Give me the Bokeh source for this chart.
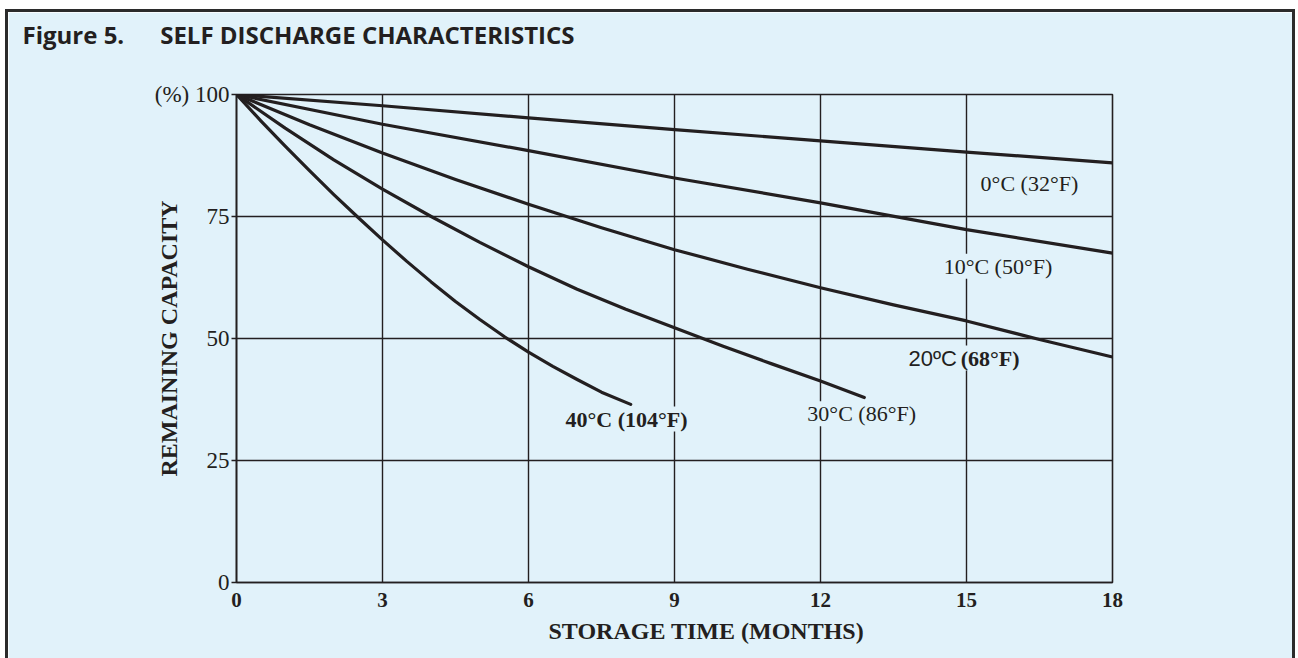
from bokeh.plotting import figure
from bokeh.models import Label, FixedTicker, Range1d, Title
from bokeh.embed import file_html
from bokeh.resources import INLINE

# ---- data ----
x_ticks = [0, 3, 6, 9, 12, 15, 18]
y_ticks = [0, 25, 50, 75, 100]

m_0c = [0, 3, 6, 9, 12, 15, 18]
v_0c = [100, 97.7, 95.2, 92.8, 90.5, 88.2, 86.0]

m_10c = [0, 3, 6, 9, 12, 15, 18]
v_10c = [100, 93.9, 88.5, 82.9, 77.8, 72.3, 67.5]

m_20c = [0, 1.5, 3, 4.5, 6, 7.5, 9, 10.5, 12, 13.5, 15, 16.5, 18]
v_20c = [100, 93.8, 88.0, 82.6, 77.5, 72.7, 68.2, 64.2, 60.4, 56.9, 53.6, 49.8, 46.2]

m_30c = [0, 1, 2, 3, 4, 5, 6, 7, 8, 9, 10, 11, 12, 12.9]
v_30c = [100, 93.1, 86.6, 80.6, 75.0, 69.7, 64.7, 60.1, 56.0, 52.2, 48.4, 44.8, 41.3, 37.9]

m_40c = [0, 0.5, 1, 1.5, 2, 2.5, 3, 3.5, 4, 4.5, 5, 5.5, 6, 6.5, 7, 7.5, 8.1]
v_40c = [100, 94.6, 89.4, 84.4, 79.5, 74.8, 70.2, 65.8, 61.6, 57.6, 53.9, 50.4, 47.2, 44.3, 41.6, 39.0, 36.5]

BG = "#e1f2fa"
INK = "#231f20"
SERIF = "Liberation Serif"

p = figure(width=1284, height=646, output_backend="svg", toolbar_location=None,
           x_range=Range1d(0, 18), y_range=Range1d(0, 100),
           min_border_left=228, min_border_right=180, min_border_top=82, min_border_bottom=76,
           background_fill_color=BG, border_fill_color=BG, margin=(12, 0, 0, 8))
p.styles = {"box-shadow": "-3px 0 0 0 #2b2b2b, 3px 0 0 0 #2b2b2b, 0 -3px 0 0 #2b2b2b, -3px -3px 0 0 #2b2b2b, 3px -3px 0 0 #2b2b2b"}

p.title.text = "Figure 5.\u2003\u2002SELF DISCHARGE CHARACTERISTICS\n"
p.title.text_font = "Open Sans"
p.title.text_font_style = "bold"
p.title.text_font_size = "24px"
p.title.text_line_height = 1.25
p.title.text_color = INK
p.title.align = "left"
p.title.offset = -214
p.title.standoff = 4

p.outline_line_color = INK
p.outline_line_width = 1.6

for g, t in ((p.xgrid, x_ticks), (p.ygrid, y_ticks)):
    g.ticker = FixedTicker(ticks=t)
    g.grid_line_color = INK
    g.grid_line_width = 1.4

for ax in (p.xaxis, p.yaxis):
    ax.axis_line_color = INK
    ax.axis_line_width = 1.6
    ax.minor_tick_line_color = None
    ax.major_tick_line_color = INK
    ax.major_tick_line_width = 1.4
    ax.major_tick_in = 0
    ax.major_label_text_color = INK
    ax.major_label_text_font = SERIF
    ax.axis_label_text_color = INK
    ax.axis_label_text_font = SERIF
    ax.axis_label_text_font_style = "bold"
    ax.axis_label_text_font_size = "24px"

p.xaxis.ticker = FixedTicker(ticks=x_ticks)
p.xaxis.major_tick_out = 0
p.xaxis.major_label_text_font_style = "bold"
p.xaxis.major_label_text_font_size = "21px"
p.xaxis.major_label_standoff = 10

p.add_layout(Title(text="STORAGE TIME (MONTHS)", text_font=SERIF, text_font_style="bold",
                   text_font_size="24px", text_color=INK, align="left", offset=312,
                   standoff=12), "below")

p.yaxis.ticker = FixedTicker(ticks=y_ticks)
p.yaxis.major_tick_out = 5
p.yaxis.major_label_text_font_size = "23px"
p.yaxis.major_label_standoff = 2
p.yaxis.major_label_overrides = {100: "(%) 100"}
p.yaxis.axis_label = "REMAINING CAPACITY"
p.yaxis.axis_label_standoff = -30

for m, v in ((m_0c, v_0c), (m_10c, v_10c), (m_20c, v_20c), (m_30c, v_30c), (m_40c, v_40c)):
    p.line(m, v, line_color=INK, line_width=3.2, line_join="round", line_cap="round")

labels = [
    (15.29, 81.8, "0°C (32°F)", SERIF, "normal"),
    (14.53, 64.8, "10°C (50°F)", SERIF, "normal"),
    (13.81, 46.0, "20ºC", "Liberation Sans", "normal"),
    (14.88, 46.0, "(68°F)", SERIF, "bold"),
    (11.73, 34.6, "30°C (86°F)", SERIF, "normal"),
    (6.76, 33.5, "40°C (104°F)", SERIF, "bold"),
]
for x, y, t, f, s in labels:
    p.add_layout(Label(x=x, y=y, text=t, text_font=f, text_font_style=s,
                       text_font_size="22px", text_color=INK, text_baseline="middle",
                       text_align="left", background_fill_color=BG))

open("out.html", "w").write(file_html(p, INLINE))
